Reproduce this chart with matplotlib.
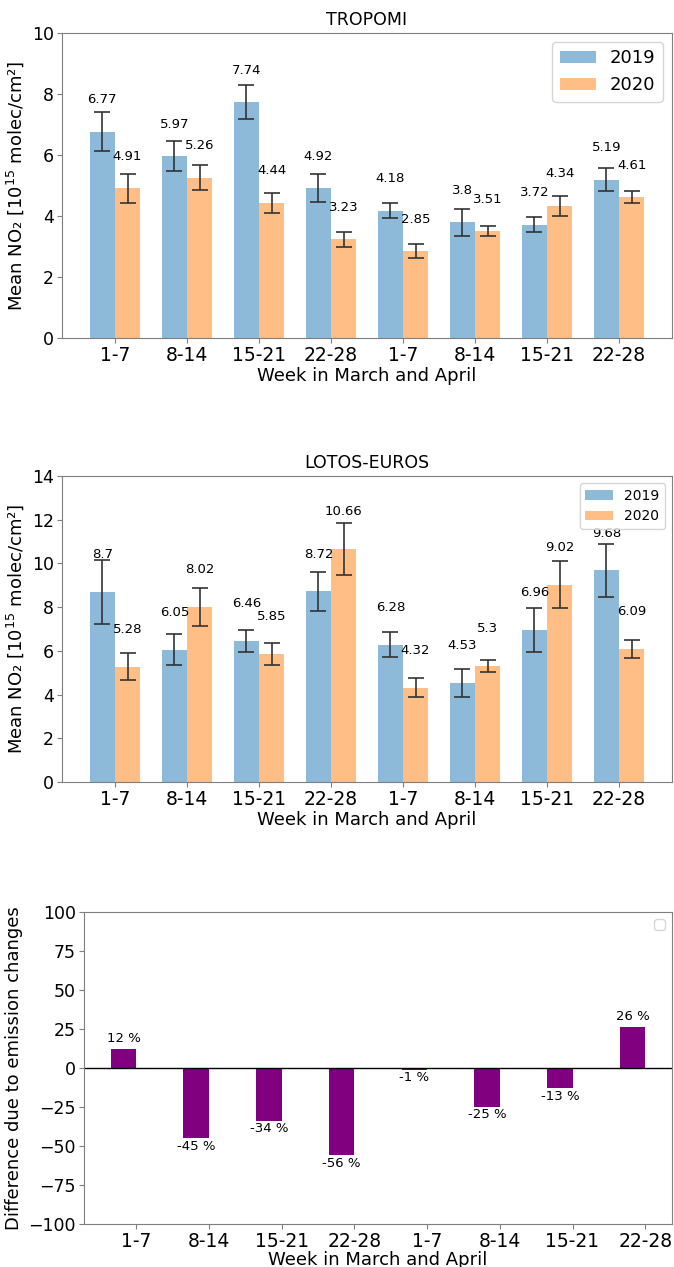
import numpy as np
import matplotlib
matplotlib.use("Agg")
import matplotlib.pyplot as plt
from matplotlib.ticker import MultipleLocator

weeks = ["1-7", "8-14", "15-21", "22-28", "1-7", "8-14", "15-21", "22-28"]

tropomi_2019 = [6.77, 5.97, 7.74, 4.92, 4.18, 3.80, 3.72, 5.19]
tropomi_2020 = [4.91, 5.26, 4.44, 3.23, 2.85, 3.51, 4.34, 4.61]
tropomi_err_2019 = [0.65, 0.49, 0.57, 0.47, 0.23, 0.44, 0.24, 0.38]
tropomi_err_2020 = [0.47, 0.42, 0.33, 0.25, 0.22, 0.16, 0.33, 0.20]

lotos_2019 = [8.70, 6.05, 6.46, 8.72, 6.28, 4.53, 6.96, 9.68]
lotos_2020 = [5.28, 8.02, 5.85, 10.66, 4.32, 5.30, 9.02, 6.09]
lotos_err_2019 = [1.45, 0.70, 0.50, 0.88, 0.57, 0.62, 1.02, 1.21]
lotos_err_2020 = [0.63, 0.86, 0.50, 1.21, 0.42, 0.27, 1.08, 0.41]

emission_diff = [12, -45, -34, -56, -1, -25, -13, 26]

W = 674 / 100
H = 1267 / 100
fig = plt.figure(figsize=(W, H), dpi=100)

def rect(l, t, r, b):
    return [l / 674, 1 - b / 1267, (r - l) / 674, (b - t) / 1267]

SPINE = "#7f7f7f"
width = 0.35
x = np.arange(len(weeks))
blue = "tab:blue"
orange = "tab:orange"
ylab = "Mean NO\u2082 [10$^{15}$ molec/cm\u00b2]"
XTICK = 13.5
YTICK = 12.5


def style(ax):
    for s in ax.spines.values():
        s.set_color(SPINE)
    ax.tick_params(colors=SPINE, labelcolor="black", pad=2.5)
    ax.tick_params(axis="x", labelsize=XTICK)
    ax.tick_params(axis="y", labelsize=YTICK)


def panel(ax, v19, v20, e19, e20, title, ymax, off, legsize):
    b1 = ax.bar(x - width / 2, v19, width, color=blue, alpha=0.5, label="2019",
                yerr=e19, capsize=6, error_kw=dict(ecolor="#333333", elinewidth=1.2, capthick=1.2))
    b2 = ax.bar(x + width / 2, v20, width, color=orange, alpha=0.5, label="2020",
                yerr=e20, capsize=6, error_kw=dict(ecolor="#333333", elinewidth=1.2, capthick=1.2))
    for bars, vals in ((b1, v19), (b2, v20)):
        for r, v in zip(bars, vals):
            ax.text(r.get_x() + r.get_width() / 2, v + off, f"{v:g}",
                    ha="center", va="center", fontsize=9.5)
    ax.set_ylim(0, ymax)
    ax.set_xticks(x)
    ax.set_xticklabels(weeks)
    ax.set_title(title, fontsize=12.5)
    ax.set_xlabel("Week in March and April", fontsize=13, labelpad=1)
    ax.set_ylabel(ylab, fontsize=13)
    ax.legend(loc="upper right", fontsize=legsize)
    style(ax)


ax1 = fig.add_axes(rect(62, 33, 672, 338))
panel(ax1, tropomi_2019, tropomi_2020, tropomi_err_2019, tropomi_err_2020,
      "TROPOMI", 10, 1.04, 13)

ax2 = fig.add_axes(rect(62, 476, 672, 782))
panel(ax2, lotos_2019, lotos_2020, lotos_err_2019, lotos_err_2020,
      "LOTOS-EUROS", 14, 1.7, 10)

ax3 = fig.add_axes(rect(84, 912, 672, 1224))
bars = ax3.bar(x - width / 2, emission_diff, width, color="purple")
for r, v in zip(bars, emission_diff):
    yy = v + 7 if v > 0 else v - 5
    ax3.text(r.get_x() + r.get_width() / 2, yy, f"{v} %", ha="center", va="center", fontsize=9.5)
ax3.axhline(0, color="black", lw=1)
ax3.set_ylim(-100, 100)
ax3.yaxis.set_major_locator(MultipleLocator(25))
ax3.set_xticks(x)
ax3.set_xticklabels(weeks)
ax3.set_xlabel("Week in March and April", fontsize=13, labelpad=0)
ax3.set_ylabel("Difference due to emission changes", fontsize=13)
ax3.legend(loc="upper right")
style(ax3)

fig.savefig("out.png", dpi=100)
